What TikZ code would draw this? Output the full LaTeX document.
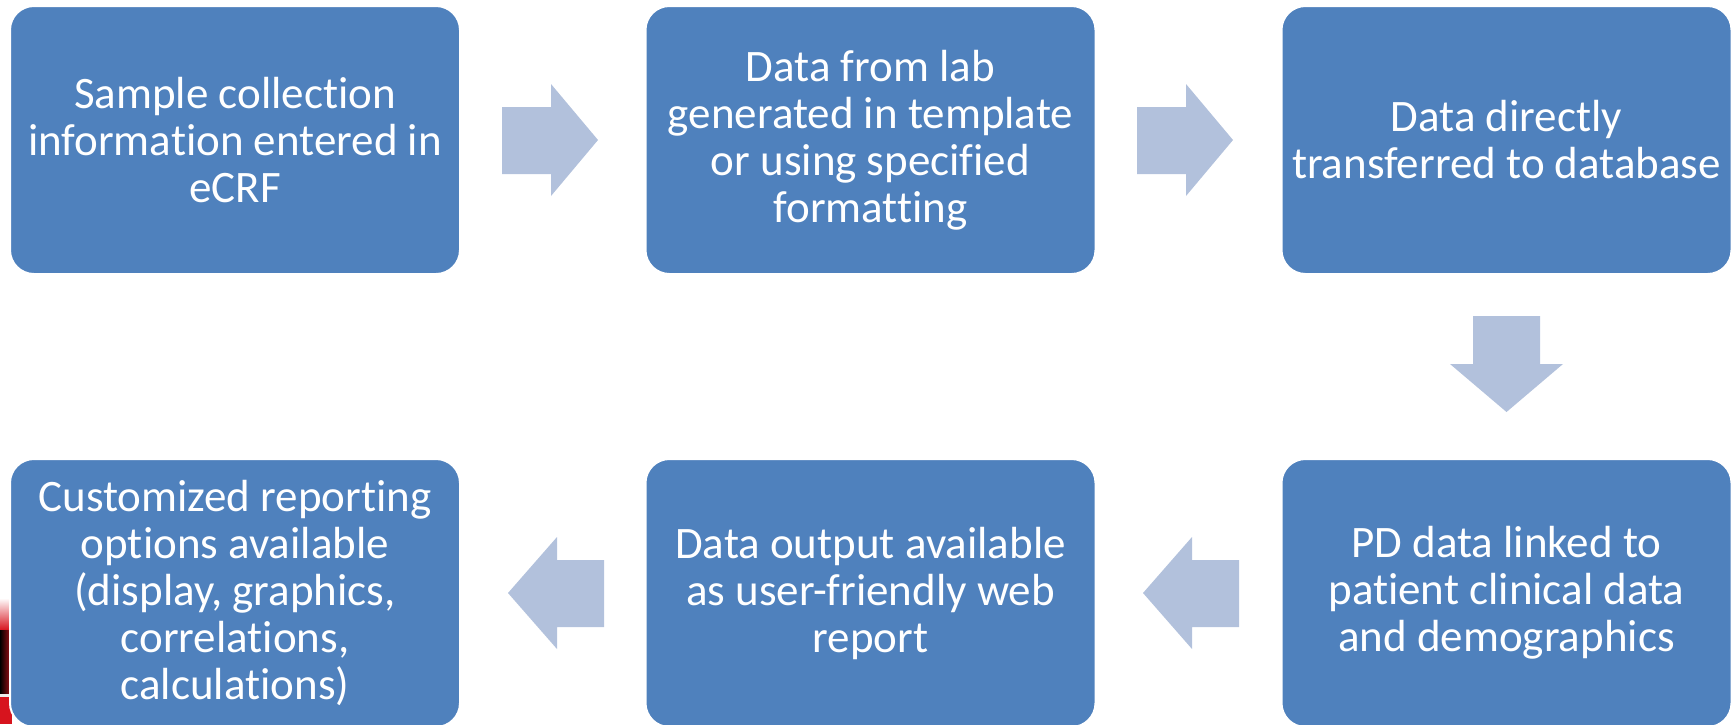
\documentclass[tikz,border=0pt]{standalone}
\usepackage{fontspec}
\setmainfont{Carlito}[Ligatures=NoCommon]
\definecolor{boxblue}{RGB}{79,129,189}
\definecolor{arrowblue}{RGB}{178,193,220}
\definecolor{logored}{RGB}{215,20,30}
\begin{document}
\begin{tikzpicture}[x=1pt,y=-1pt,
  stepbox/.style={draw=white, line width=2pt, fill=boxblue, rounded corners=24pt,
    minimum width=450pt, minimum height=268pt, inner sep=0pt, align=center,
    text=white, font=\fontsize{45}{47}\selectfont},
  blockarrow/.style={fill=arrowblue}]
\useasboundingbox (0,0) rectangle (1735,724);
\clip (0,0) rectangle (1735,724);
% partial logo at the lower-left edge
\shade[top color=white, bottom color=logored] (0,598) rectangle (10,630);
\shade[left color=black, right color=logored!70!black] (0,630) rectangle (10,694);
\fill[gray!15] (0,694) rectangle (10,697);
\fill[logored] (0,697) rectangle (12,724);
% boxes
\node[stepbox] (b1) at (235,140) {Sample collection\\information entered in\\eCRF};
\node[stepbox] (b2) at (870.5,140) {Data from lab\\generated in template\\or using specified\\formatting};
\node[stepbox] (b3) at (1506.5,140) {Data directly\\transferred to database};
\node[stepbox] (b6) at (1506.5,593) {PD data linked to\\patient clinical data\\and demographics};
\node[stepbox] (b5) at (870.5,593) {Data output available\\as user-friendly web\\report};
\node[stepbox] (b4) at (235,593) {Customized reporting\\options available\\(display, graphics,\\correlations,\\calculations)};
% block arrows
\fill[blockarrow] (502,107) -- (551,107) -- (551,84) -- (598,140) -- (551,196) -- (551,174) -- (502,174) -- cycle;
\fill[blockarrow] (1137,107) -- (1186,107) -- (1186,84) -- (1233,140) -- (1186,196) -- (1186,174) -- (1137,174) -- cycle;
\fill[blockarrow] (1473,316) -- (1540,316) -- (1540,364) -- (1563,364) -- (1506.5,412) -- (1450,364) -- (1473,364) -- cycle;
\fill[blockarrow] (1239,560) -- (1192,560) -- (1192,537) -- (1143,593) -- (1192,649) -- (1192,627) -- (1239,627) -- cycle;
\fill[blockarrow] (604,560) -- (557,560) -- (557,537) -- (508,593) -- (557,649) -- (557,627) -- (604,627) -- cycle;
\end{tikzpicture}
\end{document}
